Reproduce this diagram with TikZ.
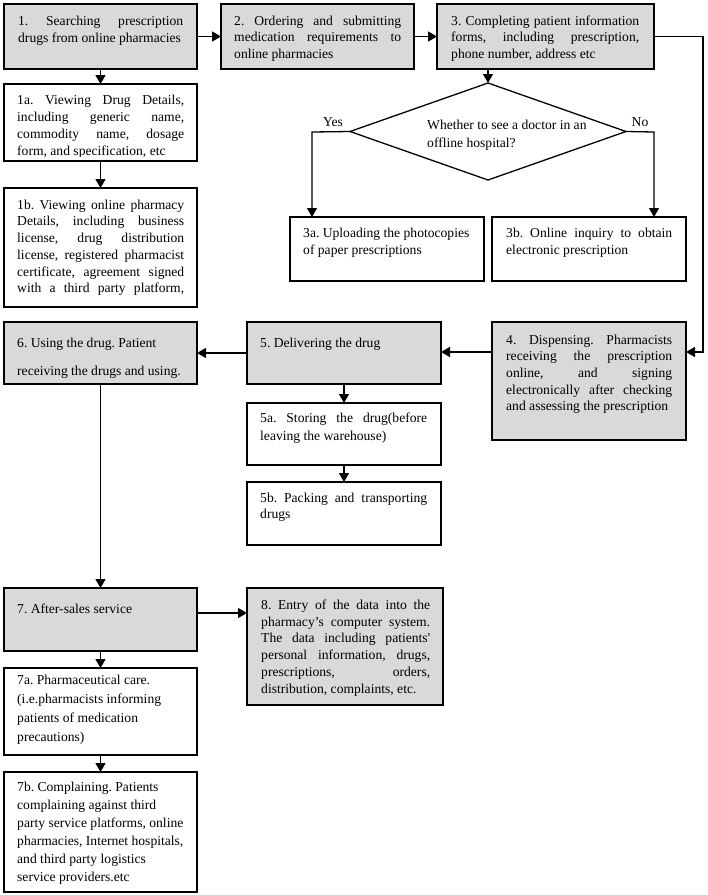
\documentclass[tikz,border=0pt]{standalone}
\usepackage{fontspec}
\setmainfont{Liberation Serif}
\usetikzlibrary{shapes.geometric,arrows.meta}
\definecolor{boxgray}{HTML}{D9D9D9}
\newcommand\fst{\frenchspacing\spaceskip=0pt\xspaceskip=0pt\hyphenpenalty=10000\exhyphenpenalty=10000\vrule height 11pt depth 0pt width 0pt}
\newcommand\J[1]{\makebox[\hsize][s]{\spaceskip=.25em plus 1fil minus .05em\xspaceskip=\spaceskip\relax#1}}
\newcommand\fs[1]{\fontsize{13.6}{#1}\selectfont}
\begin{document}
\begin{tikzpicture}[x=1pt,y=-1pt,
  box/.style={draw, line width=1.3pt, anchor=north west, inner sep=0pt, outer sep=0pt},
  gbox/.style={box, fill=boxgray},
  wbox/.style={box, fill=white},
  txt/.style={inner sep=0pt, anchor=north west, align=left},
  arr/.style={line width=1.3pt, -{Triangle[length=9pt,width=10pt]}},
  ln/.style={line width=1.3pt}]
\path[use as bounding box] (0,0) rectangle (708,895);

% boxes
\node[gbox, minimum width=193pt, minimum height=65pt] (b1) at (4,4) {};
\node[gbox, minimum width=193pt, minimum height=65pt] (b2) at (221,4) {};
\node[gbox, minimum width=217pt, minimum height=65pt] (b3) at (437,4) {};
\node[wbox, minimum width=193pt, minimum height=77pt] (b1a) at (4,84) {};
\node[wbox, minimum width=193pt, minimum height=119pt] (b1b) at (4,188) {};
\node[wbox, minimum width=194pt, minimum height=64pt] (b3a) at (290,217) {};
\node[wbox, minimum width=194pt, minimum height=64pt] (b3b) at (492,217) {};
\node[gbox, minimum width=194pt, minimum height=118pt] (b4) at (492,322) {};
\node[gbox, minimum width=194pt, minimum height=62pt] (b5) at (247,322) {};
\node[gbox, minimum width=193pt, minimum height=62pt] (b6) at (4,322) {};
\node[wbox, minimum width=194pt, minimum height=62pt] (b5a) at (247,403) {};
\node[wbox, minimum width=194pt, minimum height=63pt] (b5b) at (247,482) {};
\node[gbox, minimum width=193pt, minimum height=63pt] (b7) at (4,588) {};
\node[gbox, minimum width=196pt, minimum height=117pt] (b8) at (247,588) {};
\node[wbox, minimum width=193pt, minimum height=87pt] (b7a) at (4,668) {};
\node[wbox, minimum width=193pt, minimum height=120pt] (b7b) at (4,772) {};
\node[diamond, draw, line width=1.3pt, fill=white, minimum width=276pt, minimum height=97pt, inner sep=0pt, outer sep=0pt] (dia) at (488,131.5) {};

% texts
\node[txt, text width=165pt, font=\fs{17}] (t1) at (18,14)
 {\fst\J{1. Searching prescription}\\drugs from online pharmacies};
\node[txt, text width=167pt, font=\fs{16.5}] (t2) at (234,14)
 {\fst\J{2. Ordering and submitting}\\\J{medication requirements to}\\online pharmacies};
\node[txt, text width=188pt, font=\fs{16.5}] (t3) at (451,14)
 {\fst\J{3. Completing patient information}\\\J{forms, including prescription,}\\phone number, address etc};
\begin{scope}
\clip (4,84) rectangle (197,156);
\node[txt, text width=167pt, font=\fs{17}] (t1a) at (17,93)
 {\fst\J{1a. Viewing Drug Details,}\\\J{including generic name,}\\\J{commodity name, dosage}\\form, and specification, etc};
\end{scope}
\node[txt, text width=167pt, font=\fs{16.7}] (t1b) at (17,198)
 {\fst\J{1b. Viewing online pharmacy}\\\J{Details, including business}\\\J{license, drug distribution}\\\J{license, registered pharmacist}\\\J{certificate, agreement signed}\\\J{with a third party platform,}};
\node[txt, text width=170pt, font=\fs{17}] (t3a) at (303,226)
 {\fst 3a. Uploading the photocopies\\of paper prescriptions};
\node[txt, text width=166pt, font=\fs{17}] (t3b) at (506,226)
 {\fst\J{3b. Online inquiry to obtain}\\electronic prescription};
\node[txt, text width=166pt, font=\fs{16.6}] (t4) at (506,333)
 {\fst\J{4. Dispensing. Pharmacists}\\\J{receiving the prescription}\\\J{online, and signing}\\\J{electronically after checking}\\and assessing the prescription};
\node[txt, text width=168pt, font=\fs{17}] (t5) at (260,336)
 {\fst 5. Delivering the drug};
\node[txt, text width=178pt, font=\fs{28}] (t6) at (17,336)
 {\fst 6. Using the drug. Patient\\receiving the drugs and using.};
\node[txt, text width=167pt, font=\fs{18}] (t5a) at (260,411)
 {\fst\J{5a. Storing the drug(before}\\leaving the warehouse)};
\node[txt, text width=167pt, font=\fs{16.5}] (t5b) at (260,491)
 {\fst\J{5b. Packing and transporting}\\drugs};
\node[txt, text width=178pt, font=\fs{17}] (t7) at (17,602)
 {\fst 7. After-sales service};
\node[txt, text width=169pt, font=\fs{16.8}] (t8) at (261,598)
 {\fst\J{8. Entry of the data into the}\\\J{pharmacy’s computer system.}\\\J{The data including patients\textquotesingle}\\\J{personal information, drugs,}\\\J{prescriptions, orders,}\\distribution, complaints, etc.};
\node[txt, text width=178pt, font=\fs{19}] (t7a) at (17,673)
 {\fst 7a. Pharmaceutical care.\\(i.e.pharmacists informing\\patients of medication\\precautions)};
\node[txt, text width=178pt, font=\fs{18}] (t7b) at (17,780)
 {\fst 7b. Complaining. Patients\\complaining against third\\party service platforms, online\\pharmacies, Internet hospitals,\\and third party logistics\\service providers.etc};
\node[txt, text width=178pt, font=\fs{18}] (tdia) at (427,118)
 {\fst Whether to see a doctor in an\\offline hospital?};
\node[inner sep=0pt, font=\fs{16}] (yes) at (333,122) {Yes};
\node[inner sep=0pt, font=\fs{16}] (no) at (640,122) {No};

% connectors
\coordinate (ya) at (312,132);
\coordinate (na) at (654,132);
\coordinate (rc) at (703,352);
\coordinate (a78) at (197,613);
\draw[arr] (b1.east) -- (b2.west);
\draw[arr] (b2.east) -- (b3.west);
\draw[arr] (b1.south) -- (b1a.north);
\draw[arr] (b1a.south) -- (b1b.north);
\draw[arr] (dia.north |- b3.south) -- (dia.north);
\draw[arr] (dia.west) -- (ya) -- (ya |- b3a.north);
\draw[arr] (dia.east) -- (na) -- (na |- b3b.north);
\draw[arr] (b3.east) -| (rc) -- (rc -| b4.east);
\draw[arr] (rc -| b4.west) -- (rc -| b5.east);
\draw[arr] (b5.west) -- (b6.east);
\draw[arr] (b5.south) -- (b5a.north);
\draw[arr] (b5a.south) -- (b5b.north);
\draw[arr] (b6.south) -- (b7.north);
\draw[arr] (a78) -- (a78 -| b8.west);
\draw[arr] (b7.south) -- (b7a.north);
\draw[arr] (b7a.south) -- (b7b.north);
\end{tikzpicture}
\end{document}
